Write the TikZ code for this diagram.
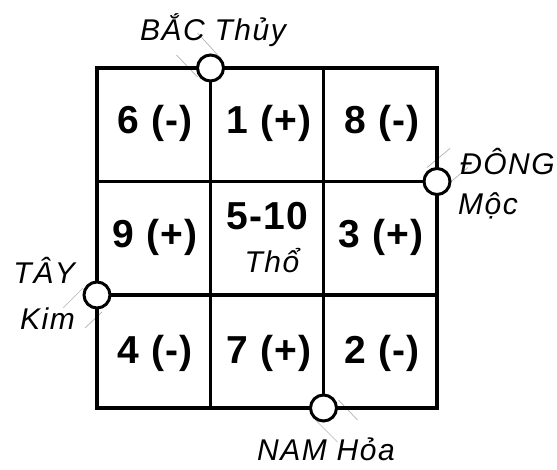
\documentclass[tikz,border=0pt]{standalone}
\usepackage{fontspec}
\setmainfont{Liberation Sans}
\newfontfamily\numfont[LetterSpace=3]{Liberation Sans}
\newfontfamily\lblfont[LetterSpace=5]{Liberation Sans}

\begin{document}
\begin{tikzpicture}[x=1pt, y=-1pt,
	num/.style={font=\numfont\bfseries\fontsize{39}{43}\selectfont, anchor=base, inner sep=0pt},
	lbl/.style={font=\lblfont\itshape\fontsize{30}{34}\selectfont, inner sep=0pt},
	knob/.style={circle, draw, line width=3pt, fill=white, minimum size=26pt, inner sep=0pt},
	lead/.style={gray!60, line width=0.7pt},
	grid/.style={line width=3.3pt}]
	\useasboundingbox (0,0) rectangle (557,470);
	% the four directions sit on the border
	\coordinate (bac) at (210.5,68);
	\coordinate (dong) at (437,181.5);
	\coordinate (tay) at (97,295);
	\coordinate (nam) at (323.5,408);
	% thin leads beside the knobs
	\draw[lead] ([shift={(-34,-13)}]bac) -- ([shift={(-13,9)}]bac);
	\draw[lead] ([shift={(-13,-35)}]bac) -- ([shift={(9,-11)}]bac);
	\draw[lead] ([shift={(-10,-14)}]dong) -- ([shift={(13,-33)}]dong);
	\draw[lead] ([shift={(13,1)}]dong) -- ([shift={(31,-14)}]dong);
	\draw[lead] ([shift={(-34,13)}]tay) -- ([shift={(-14,-7)}]tay);
	\draw[lead] ([shift={(-12,33)}]tay) -- ([shift={(5,17)}]tay);
	\draw[lead] ([shift={(15,-8)}]nam) -- ([shift={(34,12)}]nam);
	\draw[lead] ([shift={(-8,12)}]nam) -- ([shift={(14,34)}]nam);
	% 3x3 square
	\draw[grid] (97,68) rectangle (437,408);
	\foreach \v in {210.5,323.5} {
		\draw[grid] (\v,68) -- (\v,408);
	}
	\foreach \h in {181.5,295} {
		\draw[grid] (97,\h) -- (437,\h);
	}
	\foreach \p in {bac,dong,tay,nam} {
		\node[knob] (\p-k) at (\p) {};
	}
	% numbers in the cells
	\foreach \x/\y/\t/\n in {155/134/6 (-)/c6, 269/134/1 (+)/c1, 382/134/8 (-)/c8,
		155/248/9 (+)/c9, 381/248/3 (+)/c3,
		155/363/4 (-)/c4, 269/363/7 (+)/c7, 382/363/2 (-)/c2} {
		\node[num] (\n) at (\x,\y) {\t};
	}
	\node[num] (c5) at (267,230) {5-10};
	\node[lbl, anchor=base] (tho) at (272,273) {Thổ};
	% labels of the directions
	\node[lbl, anchor=base] (bac-t) at (213,41) {BẮC Thủy};
	\node[lbl, anchor=base west] (dong-t) at (460,175) {ĐÔNG};
	\node[lbl, anchor=base west] (moc-t) at (458,215) {Mộc};
	\node[lbl, anchor=base east] (tay-t) at (75,284) {TÂY};
	\node[lbl, anchor=base east] (kim-t) at (75,330) {Kim};
	\node[lbl, anchor=base] (nam-t) at (326,460) {NAM Hỏa};
\end{tikzpicture}
\end{document}
